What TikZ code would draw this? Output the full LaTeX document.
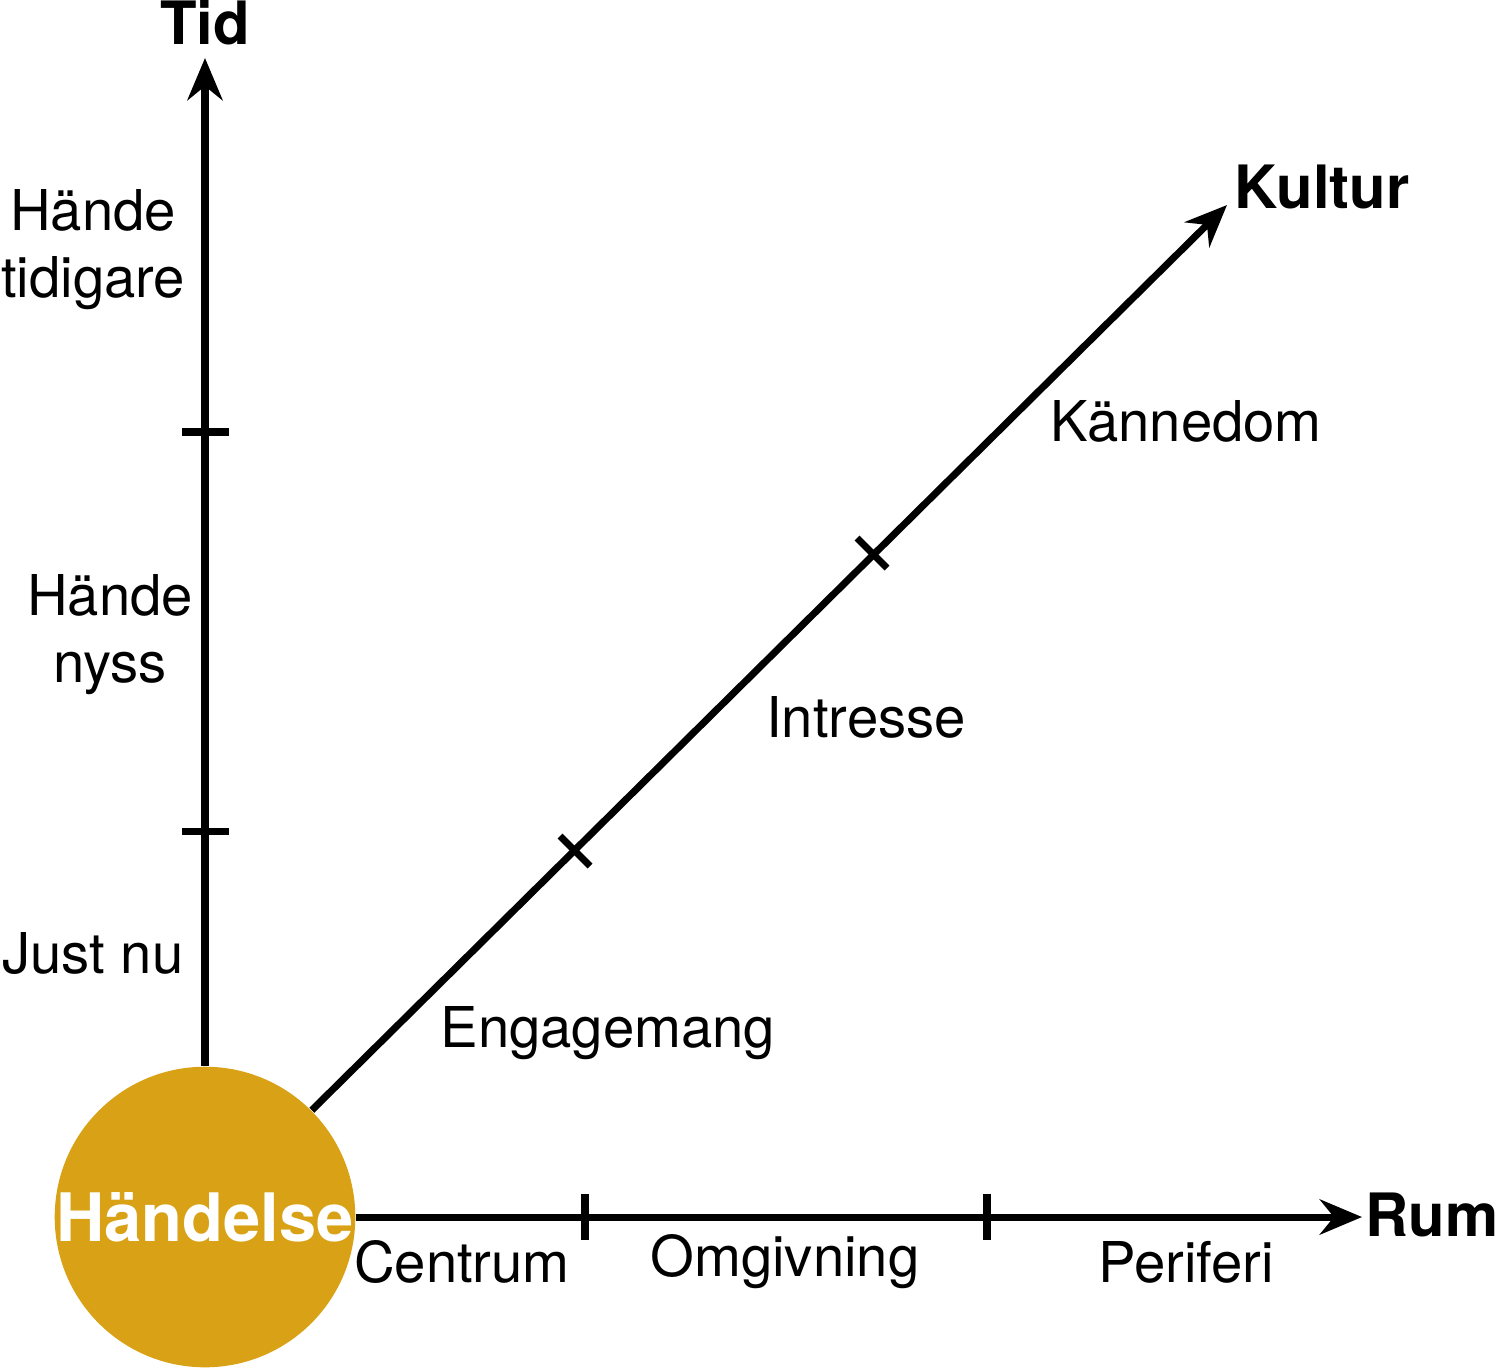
\documentclass[tikz,border=0pt]{standalone}
\usepackage{fontspec}
\setmainfont{TeX Gyre Heros}
\usetikzlibrary{arrows.meta}
\definecolor{gold}{HTML}{D9A216}
\begin{document}
\begin{tikzpicture}[x=0.01cm,y=-0.01cm,
  axis/.style={line width=2pt,-{Stealth[length=12pt,width=10pt,inset=4pt]}},
  tick/.style={line width=2pt},
  lbl/.style={font=\fontsize{16}{19}\selectfont,align=center},
  ttl/.style={font=\fontsize{17}{20}\selectfont\bfseries}]
\useasboundingbox (0,0) rectangle (1500,1369);
\node[circle,fill=gold,minimum size=300*0.01cm,inner sep=0,text=white,font=\fontsize{19}{22}\selectfont\bfseries] (h) at (205,1217) {Händelse};
\coordinate (tidend) at (205,58);
\coordinate (rumend) at (1362,1217);
\coordinate (kulend) at (1227,205);
\draw[axis] (h.north) -- (tidend);
\draw[axis] (h.east) -- (rumend);
\draw[axis] (h.45) -- (kulend);
\foreach \y in {432,831} \draw[tick] (182,\y) -- (229,\y);
\foreach \x in {585,987} \draw[tick] (\x,1194) -- (\x,1240);
\draw[tick] (560,836) -- (590,866);
\draw[tick] (857,538) -- (887,568);
\node[ttl] (tid) at (205,22) {Tid};
\node[ttl] (kul) at (1322,187) {Kultur};
\node[ttl] (rum) at (1432,1215) {Rum};
\node[lbl] (l1) at (93,250) {Hände\\tidigare};
\node[lbl] (l2) at (110,635) {Hände\\nyss};
\node[lbl] (l3) at (93,953) {Just nu};
\node[lbl] (l4) at (608,1033) {Engagemang};
\node[lbl] (l5) at (866,717) {Intresse};
\node[lbl] (l6) at (1186,421) {Kännedom};
\node[lbl] (l7) at (462,1262) {Centrum};
\node[lbl] (l8) at (785,1262) {Omgivning};
\node[lbl] (l9) at (1186,1262) {Periferi};
\end{tikzpicture}
\end{document}
